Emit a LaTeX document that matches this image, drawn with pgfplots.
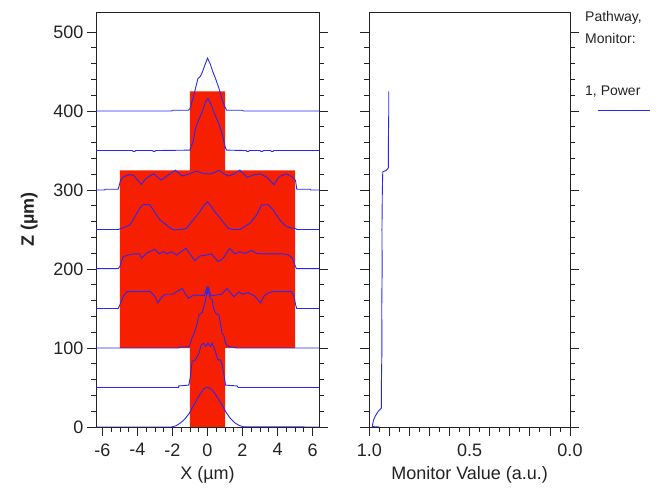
\documentclass[border=0pt]{standalone}
\usepackage{pgfplots}
\pgfplotsset{compat=1.18}
\usepackage{fontspec}
\setmainfont{Liberation Sans}
\definecolor{wgred}{RGB}{246,32,0}
\definecolor{fieldblue}{RGB}{40,40,245}
\definecolor{axisgray}{RGB}{35,35,35}

\begin{document}
\begin{tikzpicture}
\useasboundingbox (0pt,0pt) rectangle (667pt,489pt);
\pgfplotsset{
  fld/.style={color=fieldblue, line width=0.9pt, mark=none},
  panel/.style={
    scale only axis, anchor=south west,
    height=414.7pt,
    ymin=0, ymax=525,
    ytick={0,100,200,300,400,500},
    minor y tick num=4,
    tick align=outside,
    xtick pos=lower, ytick pos=both, yticklabel pos=left,
    major tick length=9pt, minor tick length=5pt,
    minor x tick num=1,
    every tick/.style={axisgray, line width=0.8pt},
    axis line style={axisgray, line width=0.8pt},
    tick label style={font=\fontsize{18}{20}\selectfont, text=axisgray},
    label style={font=\fontsize{18}{20}\selectfont, text=axisgray},
    xticklabel style={yshift=-4pt},
    xlabel shift=3pt,
  }
}
% left panel: waveguide and field profiles
\begin{axis}[panel, at={(96pt,62pt)}, width=223pt,
  xmin=-6.37, xmax=6.37,
  xtick={-6,-4,-2,0,2,4,6},
  xticklabels={-6,-4,-2,0,2,4,6},
  minor xtick={-5.5,-5,...,5.5},
  yticklabels={0,100,200,300,400,500},
  xlabel={X (µm)}, ylabel={\textbf{Z (µm)}},
  ylabel shift=9pt,
]
\addplot[fill=wgred, draw=none] coordinates {(-1,0)(1,0)(1,100)(5,100)(5,325)(1,325)(1,425)(-1,425)(-1,325)(-5,325)(-5,100)(-1,100)} -- cycle;
% z = 0
\addplot[fld] coordinates {(-6.37,0)(-2.05,0)(-1.8,1.5)(-1.55,5)(-1.3,10)(-1.05,17)(-0.85,25)(-0.65,33)(-0.4,42.5)(-0.2,48.5)(0,50.3)(0.2,48.5)(0.4,43)(0.6,36)(0.85,27)(1.05,19)(1.3,11)(1.55,5.5)(1.8,2)(2.05,0.3)(6.37,0)};
% z = 50
\addplot[fld] coordinates {(-6.37,50)(-1.66,50)(-1.64,52)(-1.07,53)(-0.97,64)(-0.88,83)(-0.69,85)(-0.49,93)(-0.36,104)(-0.21,106)(-0.11,102)(0.02,106)(0.17,102)(0.27,106)(0.46,95)(0.59,85)(0.74,85)(0.84,78.5)(0.97,62)(1.03,53)(1.69,52)(1.75,50)(6.37,50)};
% z = 100
\addplot[fld] coordinates {(-6.37,100)(-1.64,100)(-1.6,101)(-1.07,101.5)(-0.97,106)(-0.87,114)(-0.78,117)(-0.59,131)(-0.49,142)(-0.3,145)(-0.21,152)(-0.11,161)(-0.06,168)(-0.03,176)(0.0,168)(0.03,176)(0.07,176)(0.1,168)(0.15,163)(0.27,161)(0.35,150)(0.46,144)(0.65,142)(0.74,131)(0.84,118)(0.93,116)(1.03,106)(1.12,103)(1.31,101.3)(1.6,100.5)(1.65,100)(6.37,100)};
% z = 150
\addplot[fld] coordinates {(-6.37,150)(-5.1,150)(-5.0,155)(-4.8,166)(-4.6,171.3)(-3.26,171.3)(-3.0,165)(-2.84,157)(-2.6,165)(-2.4,168)(-2.0,168)(-1.7,172)(-1.45,175.5)(-1.25,168)(-1.07,163)(-0.8,167)(-0.4,167)(-0.2,166)(-0.1,172)(-0.03,177.6)(0.03,177.6)(0.1,172)(0.2,166)(0.5,167)(0.8,168)(1.12,175.5)(1.3,170)(1.5,165)(1.8,171)(2.0,168)(2.3,170)(2.7,166)(2.84,162)(3.03,157)(3.2,165)(3.41,169)(3.7,171.3)(4.8,171.3)(4.95,165)(5.03,155)(5.1,150)(6.37,150)};
% z = 200
\addplot[fld] coordinates {(-6.37,200.5)(-5.1,200.5)(-5.01,203)(-4.82,215.6)(-4.53,217.7)(-4.2,219.2)(-3.87,219.2)(-3.77,213.5)(-3.49,219.8)(-3.01,225)(-2.76,219.2)(-2.53,221.9)(-2.3,219.2)(-2.06,221.9)(-1.77,217.7)(-1.24,226.2)(-0.72,210.5)(-0.44,216.5)(-0.06,217.7)(0.23,219.2)(0.61,209.2)(0.89,213.5)(1.27,226.2)(1.56,219.2)(1.85,221.9)(2.13,219.8)(2.51,223.4)(2.8,219.8)(3.18,219.2)(3.8,219.2)(4.32,219.2)(4.61,217.7)(4.85,214)(4.99,205)(5.08,200.5)(6.37,200.5)};
% z = 250
\addplot[fld] coordinates {(-6.37,250)(-5.1,250)(-5.0,251)(-4.91,251.5)(-4.44,255.7)(-4.15,266)(-3.87,277)(-3.68,281.5)(-3.3,281.5)(-3.1,275)(-2.72,262)(-2.34,255.7)(-2.06,250.5)(-1.87,249.5)(-1.5,250)(-1.2,251.5)(-0.82,262)(-0.44,272.6)(-0.15,282)(0.0,285)(0.15,281)(0.42,272.6)(0.8,262)(1.18,251.5)(1.5,250)(1.85,250)(2.42,257.8)(2.8,268.3)(3.09,281)(3.47,281.5)(3.75,274.7)(4.13,262)(4.51,253.6)(4.89,251.5)(5.05,251)(5.1,250)(6.37,250)};
% z = 300
\addplot[fld] coordinates {(-6.37,300)(-5.87,300)(-5.85,301)(-5.1,301)(-4.97,312)(-4.8,317)(-4.44,319.5)(-4.2,318)(-3.78,307)(-3.5,315)(-3.07,320.5)(-2.65,312.5)(-2.3,318)(-1.83,325)(-1.45,317.7)(-0.97,321)(-0.63,324)(-0.21,320.6)(0.13,320.3)(0.4,322)(0.65,325)(0.9,321)(1.22,317.7)(1.5,320)(1.85,325.3)(2.27,316)(2.6,319)(3.03,320.6)(3.4,316)(3.79,306.7)(4.1,317)(4.5,320.5)(4.8,317)(5.03,312)(5.1,301)(5.85,301)(5.9,300)(6.37,300)};
% z = 350
\addplot[fld] coordinates {(-6.37,350)(-4.3,350)(-4.25,349)(-4.15,349)(-4.1,350)(-3.15,350)(-3.1,349)(-3.0,349)(-2.95,350)(-1.0,350.5)(-0.97,353)(-0.82,361)(-0.69,378)(-0.5,389)(-0.3,399)(-0.11,412)(0.03,416)(0.17,410)(0.36,399)(0.55,389)(0.74,378)(0.9,365)(1.03,353)(1.1,350.5)(2.2,350)(2.25,349)(2.35,349)(2.4,350)(3.0,350)(3.05,349)(3.15,349)(3.2,350)(3.6,350)(3.65,349)(3.75,349)(3.8,350)(6.37,350)};
% z = 400
\addplot[fld] coordinates {(-6.37,400)(-2.05,400)(-2.0,401)(-1.1,401)(-1.0,403)(-0.8,418)(-0.65,432)(-0.55,441)(-0.4,444)(-0.3,449)(-0.15,458)(0,467)(0.15,460)(0.3,450)(0.46,441)(0.65,429)(0.84,414)(1.0,405)(1.1,401)(2.0,401)(2.05,400)(6.37,400)};
\end{axis}
% right panel: monitor value
\begin{axis}[panel, at={(369.3pt,62pt)}, width=200.7pt,
  xmin=0, xmax=1, x dir=reverse,
  xtick={0,0.1,0.2,0.3,0.4,0.5,0.6,0.7,0.8,0.9,1},
  xticklabels={0.0,,,,,0.5,,,,,1.0},
  yticklabels={},
  xlabel={Monitor Value (a.u.)},
]
\addplot[fld] coordinates {(0.95,0)(0.985,0.5)(0.98,8)(0.97,14)(0.955,20)(0.94,24)(0.94,50)(0.937,100)(0.938,150)(0.936,200)(0.937,250)(0.935,300)(0.933,323)(0.915,325)(0.905,328)(0.905,360)(0.903,400)(0.903,425)};
\end{axis}
% legend
\begin{scope}[every node/.style={font=\fontsize{14}{16}\selectfont, text=axisgray, anchor=west, inner sep=0pt}]
\node at (585pt,471pt) {Pathway,};
\node at (585pt,450pt) {Monitor:};
\node at (585pt,397pt) {1, Power};
\end{scope}
\draw[draw=fieldblue, line width=1pt] (597.5pt,378pt) -- (650pt,378pt);
\end{tikzpicture}
\end{document}
